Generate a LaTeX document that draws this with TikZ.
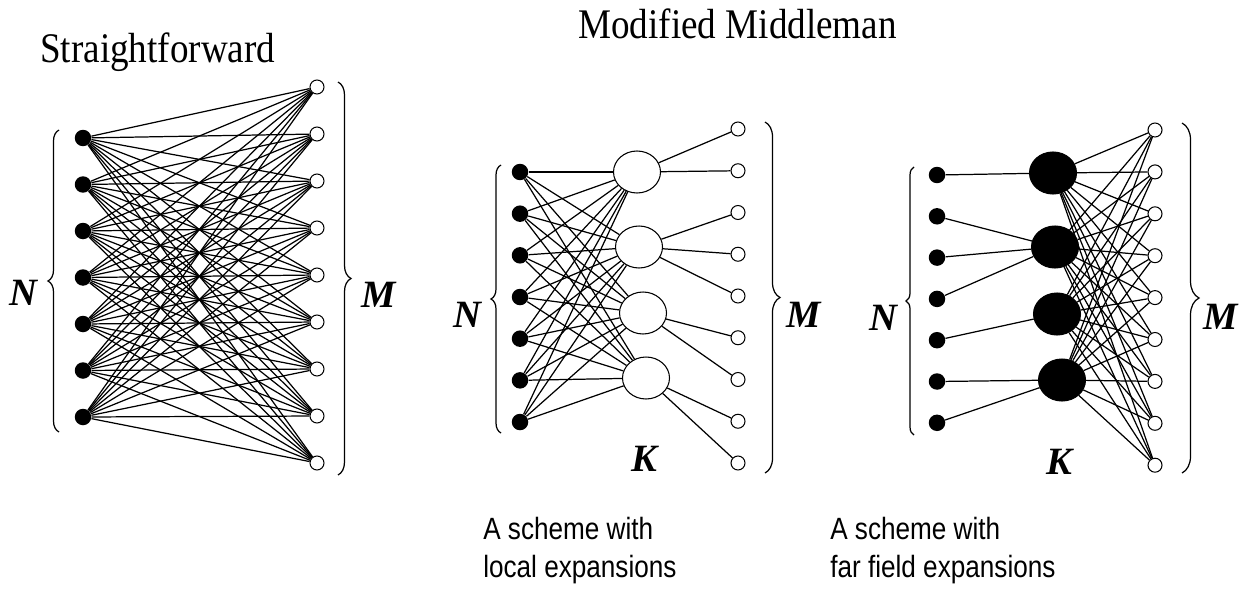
\documentclass[tikz,border=0pt]{standalone}
\usepackage{fontspec}
\setmainfont{Liberation Serif}
\setsansfont{Liberation Sans}
\usetikzlibrary{shapes.geometric}
\usetikzlibrary{decorations.pathreplacing}

\tikzset{
  src/.style={circle,fill=black,inner sep=0pt,minimum size=0.33cm},
  tgt/.style={circle,draw=black,fill=white,line width=0.6pt,inner sep=0pt,minimum size=0.28cm},
  mid/.style={ellipse,draw=black,fill=white,line width=0.6pt,inner sep=0pt,minimum width=0.94cm,minimum height=0.84cm},
  midfull/.style={mid,fill=black},
  wire/.style={black,line width=0.7pt},
  cbrace/.style={decorate,decoration={brace,amplitude=#1},line width=0.7pt},
  cbrace/.default=0.2cm,
  setlbl/.style={font=\fontsize{22}{22}\selectfont\bfseries\itshape,inner sep=0pt},
  heading/.style={font=\fontsize{24}{28}\selectfont,xscale=0.88,anchor=base west,inner sep=0pt},
  caption/.style={font=\sffamily\fontsize{17.5}{21}\selectfont,xscale=0.85,anchor=base west,inner sep=0pt}
}

\begin{document}
\begin{tikzpicture}[x=0.02cm,y=-0.02cm]
\useasboundingbox (0,0) rectangle (1243,588);

\node[heading] (T1) at (40,63) {Straightforward};
\node[heading] (T2) at (578,39) {Modified Middleman};

% direct sums: every source to every target
\foreach \i in {1,...,7} \node[src] (a\i) at (83,{138+46.5*(\i-1)}) {};
\foreach \j in {1,...,9} \node[tgt] (b\j) at (317,{87+47*(\j-1)}) {};
\foreach \i in {1,...,7} \foreach \j in {1,...,9} \draw[wire] (a\i) -- (b\j);
\draw[cbrace=0.22cm] (59,432) -- (59,130);
\draw[cbrace=0.26cm] (338,82) -- (338,475);
\node[setlbl] (aN) at (23,293) {N};
\node[setlbl] (aM) at (379,295) {M};

% local expansions
\foreach \i in {1,...,7} \node[src] (c\i) at (520,{172+41.67*(\i-1)}) {};
\node[mid] (k1) at (637,172) {};
\node[mid] (k2) at (639,247) {};
\node[mid] (k3) at (643,313) {};
\node[mid] (k4) at (646,378) {};
\foreach \j in {1,...,9} \node[tgt] (d\j) at (738,{129+41.75*(\j-1)}) {};
\foreach \i in {1,...,7} \foreach \k in {1,...,4} \draw[wire] (c\i) -- (k\k);
\foreach \k/\j in {1/1,1/2,2/3,2/4,2/5,3/6,3/7,4/8,4/9} \draw[wire] (k\k) -- (d\j);
\draw[cbrace=0.2cm] (501,433) -- (501,165);
\draw[cbrace=0.3cm] (765,122) -- (765,473);
\node[setlbl] (cN) at (467,315) {N};
\node[setlbl] (cM) at (804,315) {M};
\node[setlbl] (cK) at (644,459) {K};
\node[caption] (cT1) at (483,539) {A scheme with};
\node[caption] (cT2) at (483,577) {local expansions};

% far field expansions
\foreach \i in {1,...,7} \node[src] (e\i) at (937,{175+41.3*(\i-1)}) {};
\node[midfull] (f1) at (1053,173) {};
\node[midfull] (f2) at (1055,247) {};
\node[midfull] (f3) at (1057,314) {};
\node[midfull] (f4) at (1062,380) {};
\foreach \j in {1,...,9} \node[tgt] (g\j) at (1155,{130+41.9*(\j-1)}) {};
\foreach \i/\k in {1/1,2/2,3/2,4/2,5/3,6/4,7/4} \draw[wire] (e\i) -- (f\k);
\foreach \k in {1,...,4} \foreach \j in {1,...,9} \draw[wire] (f\k) -- (g\j);
\draw[cbrace=0.16cm] (914,435) -- (914,167);
\draw[cbrace=0.34cm] (1182,123) -- (1182,473);
\node[setlbl] (eN) at (883,318) {N};
\node[setlbl] (eM) at (1221,317) {M};
\node[setlbl] (eK) at (1059,462) {K};
\node[caption] (eT1) at (830,539) {A scheme with};
\node[caption] (eT2) at (830,577) {far field expansions};
\end{tikzpicture}
\end{document}
